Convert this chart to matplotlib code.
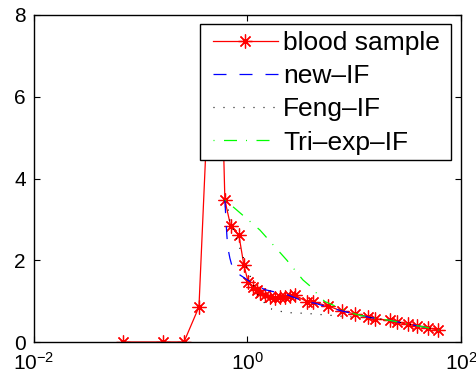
import matplotlib
matplotlib.use("Agg")
import matplotlib.pyplot as plt
from matplotlib.patches import Rectangle
from matplotlib.ticker import LogFormatterMathtext, NullLocator

plt.rcParams['font.family'] = ['Liberation Sans', 'DejaVu Sans']
plt.rcParams['mathtext.fontset'] = 'custom'
plt.rcParams['mathtext.rm'] = 'Liberation Sans'
plt.rcParams['mathtext.it'] = 'Liberation Sans:italic'
plt.rcParams['mathtext.bf'] = 'Liberation Sans:bold'

# blood sample
blood_x = [0.0686, 0.163, 0.254, 0.351, 0.454, 0.562, 0.614, 0.695, 0.831, 0.925,
           1.015, 1.131, 1.217, 1.306, 1.455, 1.621, 1.805, 2.011, 2.240, 2.495,
           2.779, 3.576, 4.124, 5.695, 7.605, 10.13, 13.5, 15.6, 21.5, 24.9,
           32.0, 38.3, 49.2, 61.1]
blood_y = [0.0, 0.0, 0.0, 0.86, 7.5, 7.4, 3.47, 2.84, 2.61, 1.88,
           1.47, 1.35, 1.27, 1.19, 1.15, 1.11, 1.07, 1.11, 1.11, 1.13,
           1.15, 0.99, 0.98, 0.88, 0.76, 0.685, 0.62, 0.57, 0.53, 0.49,
           0.43, 0.39, 0.35, 0.29]

# new-IF
new_x = [0.614, 0.628, 0.641, 0.655, 0.684, 0.714, 0.779, 0.849, 1.053, 1.455,
         2.389, 3.447, 4.277, 5.539, 7.654, 10.13, 14.0, 21.5, 33.2, 48.9, 62.0]
new_y = [3.47, 3.0, 2.6, 2.3, 2.05, 1.87, 1.72, 1.64, 1.48, 1.28,
         1.15, 0.985, 0.95, 0.86, 0.76, 0.685, 0.60, 0.53, 0.43, 0.35, 0.29]

# Feng-IF
feng_x = [0.614, 0.660, 0.684, 0.849, 1.009, 1.217, 1.403, 1.621, 1.873, 2.323,
          3.576, 5.504, 8.47, 14.0, 21.5, 33.2, 48.9, 62.0]
feng_y = [3.47, 3.23, 2.98, 2.29, 1.76, 1.19, 0.99, 0.82, 0.77, 0.72,
          0.70, 0.66, 0.62, 0.60, 0.53, 0.43, 0.35, 0.29]

# Tri-exp-IF
tri_x = [0.614, 0.730, 1.306, 2.339, 3.302, 4.098, 4.563, 5.305, 7.333, 10.13,
         14.0, 21.5, 33.2, 48.9, 62.0]
tri_y = [3.47, 3.31, 2.74, 2.0, 1.52, 1.31, 1.15, 0.99, 0.83, 0.685,
         0.60, 0.53, 0.43, 0.35, 0.29]

x_ticks = [1e-2, 1e0, 1e2]
y_ticks = [0, 2, 4, 6, 8]

fig = plt.figure(figsize=(4.77, 3.79), dpi=100)
ax = fig.add_axes([34/477, 37/379, (461-34)/477, (342-15)/379])

ax.plot(blood_x, blood_y, color=(1, 0, 0), lw=0.9, marker=(8, 2, 0),
        markersize=10, markeredgewidth=0.9, label='blood sample')
ax.plot(new_x, new_y, color=(0, 0, 1), lw=0.9, ls=(0, (10.4, 10.4)), label='new\u2013IF')
ax.plot(feng_x, feng_y, color='k', lw=0.9, ls=(0, (0.8, 7.2)), label='Feng\u2013IF')
ax.plot(tri_x, tri_y, color=(0, 1, 0), lw=0.9, ls=(0, (0.8, 7.6, 10.4, 7.2)),
        label='Tri\u2013exp\u2013IF')

ax.set_xscale('log')
ax.set_xlim(1e-2, 1e2)
ax.set_ylim(0, 8)
ax.set_xticks(x_ticks)
ax.xaxis.set_major_formatter(LogFormatterMathtext())
ax.xaxis.set_minor_locator(NullLocator())
ax.set_yticks(y_ticks)
ax.tick_params(direction='in', length=4, width=0.8, labelsize=15,
               top=True, right=True, pad=6)
ax.tick_params(axis='x', pad=7)
for s in ax.spines.values():
    s.set_linewidth(1.0)

# legend frame (white box covering the lines beneath)
frame = Rectangle((0.3888, 0.5566), 0.9766 - 0.3888, 0.9725 - 0.5566,
                  transform=ax.transAxes, facecolor='white', edgecolor='k',
                  linewidth=1.0, zorder=4)
ax.add_patch(frame)

leg = ax.legend(loc='upper left', bbox_to_anchor=(0.4192, 0.951), fontsize=19,
                numpoints=1, handlelength=2.45, handletextpad=0.2,
                labelspacing=0.35, borderpad=0.0, borderaxespad=0.0,
                frameon=False)
leg.set_zorder(5)

fig.savefig('out.png', dpi=100)
